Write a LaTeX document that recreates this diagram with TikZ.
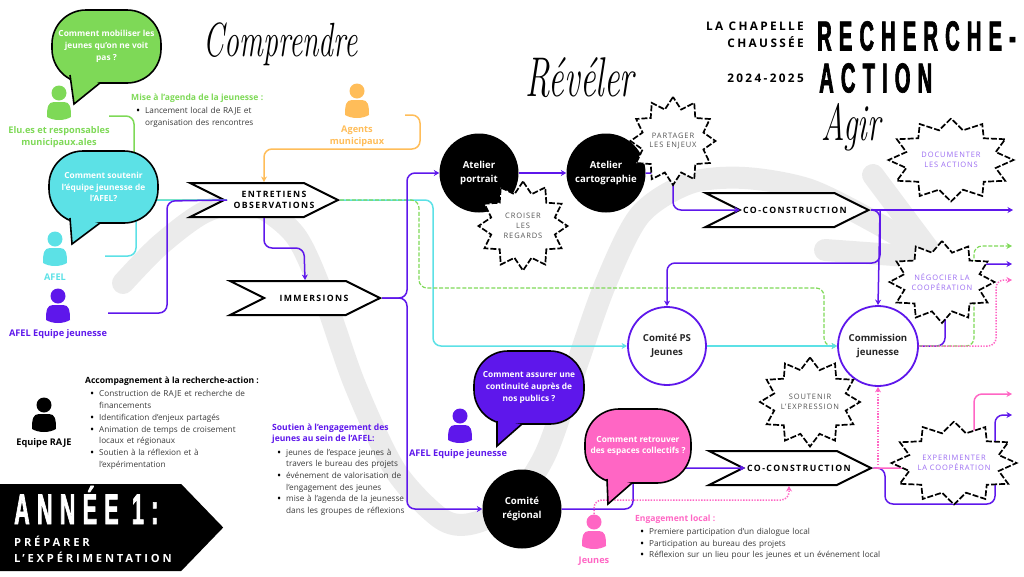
\documentclass[tikz,border=0pt]{standalone}
\usepackage{fontspec}
\usepackage{xcolor}
\usepackage{tikz}
\usetikzlibrary{arrows.meta,positioning,shapes.geometric,shapes.symbols}
\setmainfont{Open Sans}
\newfontfamily\condface[FakeStretch=0.48,LetterSpace=17,BoldFeatures={FakeBold=1.5}]{Liberation Sans}
\newfontfamily\bigface[FakeStretch=0.5,LetterSpace=17,BoldFeatures={FakeBold=1.5}]{Liberation Sans}
\newfontfamily\spacedface[LetterSpace=20]{Open Sans}
\newfontfamily\banface[LetterSpace=25]{Open Sans}
\newfontfamily\tagface[LetterSpace=12]{Open Sans}
\newfontfamily\chevface[LetterSpace=16]{Open Sans}
\newfontfamily\scriptface[FakeStretch=0.62]{Latin Modern Roman}
\definecolor{cgreen}{HTML}{7ED957}
\definecolor{ccyan}{HTML}{5CE1E6}
\definecolor{cviolet}{HTML}{5E17EB}
\definecolor{cpink}{HTML}{FF66C4}
\definecolor{corange}{HTML}{FFBD59}
\definecolor{cswoosh}{HTML}{EBEBEB}
\definecolor{ctag}{HTML}{555555}
\definecolor{cltag}{HTML}{9B6CF2}
\definecolor{cbody}{HTML}{3A3A3A}
\tikzset{
  farr/.style={-{Stealth[length=5.5pt,width=6pt]}, line width=1.5pt, rounded corners=8pt, #1},
  fdash/.style={farr=#1, dash pattern=on 4pt off 1.8pt, line width=1.2pt},
  fdot/.style={farr=#1, dash pattern=on 1.4pt off 1.4pt, line width=1.5pt},
  fplain/.style={line width=1.5pt, rounded corners=8pt, #1},
  chev/.style={signal, signal from=west, signal to=east, signal pointer angle=53, draw=black, line width=2pt, fill=white, inner sep=0pt, minimum height=34pt},
  chevlab/.style={inner sep=0pt, align=center, font=\chevface\bfseries\fontsize{8.7}{11.6}\selectfont},
  rond/.style={circle, draw=#1, line width=1.8pt, fill=white, minimum size=78pt, inner sep=0pt, align=center, font=\bfseries\fontsize{9.6}{13.4}\selectfont, text=black!85},
  rondnoir/.style={circle, fill=black, minimum size=79pt, inner sep=0pt, align=center, font=\bfseries\fontsize{9.6}{13.4}\selectfont, text=white},
  bulle/.style={rounded corners=34pt, draw=black, line width=1.6pt, fill=#1, text=white, inner sep=0pt, align=center, font=\bfseries\fontsize{8.35}{11.7}\selectfont},
  burst/.style={star, star points=12, star point ratio=1.35, draw=black, line width=1.7pt, dash pattern=on 6pt off 2pt, fill=white, minimum size=100pt, inner sep=0pt, transform shape},
  burstlab/.style={align=center, text=#1, font=\tagface\fontsize{7.5}{9.7}\selectfont},
  qui/.style={align=center, text=#1, inner sep=0pt, font=\bfseries\fontsize{9.2}{12}\selectfont},
  liste/.style={anchor=north west, inner sep=0pt, text=cbody, font=\fontsize{8.2}{11.7}\selectfont},
  sousT/.style={anchor=north west, inner sep=0pt, align=left, text=#1, font=\bfseries\fontsize{8.55}{11.7}\selectfont},
  manuscrit/.style={inner sep=0pt, font=\scriptface\itshape\fontsize{#1}{#1}\selectfont}
}
\newenvironment{puces}{\begin{list}{\raisebox{-1pt}{\fontsize{11}{11}\selectfont\color{black}\textbullet}}{\setlength\leftmargin{14pt}\setlength\labelsep{5pt}\setlength\labelwidth{8pt}\setlength\itemsep{0pt}\setlength\parsep{0pt}\setlength\topsep{0pt}\setlength\partopsep{0pt}}}{\end{list}}
\newcommand{\person}[4]{
  \node[circle, fill=#4, minimum size=15pt, inner sep=0pt] (#1) at (#2,#3) {};
  \begin{scope}[shift={(#2,#3)}]
    \fill[#4] (-12,24) .. controls (-12,14) and (-11,9) .. (-5,9) -- (5,9) .. controls (11,9) and (12,14) .. (12,24) .. controls (5,28) and (-5,28) .. cycle;
  \end{scope}
}
\newcommand{\burstat}[7]{
  \pgfmathsetmacro{\bx}{#4/100}\pgfmathsetmacro{\by}{#5/100}
  \begin{scope}[shift={(#2,#3)},xscale=\bx,yscale=\by]
    \node[burst] (#1) at (0,0) {};
  \end{scope}
  \node[burstlab=#6] (#1t) at (#2,#3) {#7};
}
\newcommand{\queue}[4]{
  \fill[#1] #2 -- #3 -- #4 -- cycle;
  \draw[black, line width=1.6pt] #2 -- #3 -- #4;
}

\begin{document}
\begin{tikzpicture}[x=1pt,y=-1pt]
\useasboundingbox (0,0) rectangle (1024,576);
% fond
\draw[cswoosh, line width=22pt, line cap=round, line join=round] plot[smooth] coordinates {(123,283) (160,245) (205,212) (250,203) (295,235) (325,300) (355,385) (395,470) (440,518) (470,524) (510,505) (545,455) (575,370) (605,285) (640,215) (690,183) (745,178) (810,190) (880,225) (935,258)};
\draw[cswoosh, line width=22pt, line cap=round, line join=round] (873,175) -- (935,258) -- (825,250);

% titres
\node[manuscrit=48] (tComp) at (281,44) {Comprendre};
\node[manuscrit=56] (tRev) at (580,78) {Révéler};
\node[manuscrit=52] (tAgir) at (851,127) {Agir};
\node[anchor=east, inner sep=0pt, align=right, font=\spacedface\bfseries\fontsize{11.8}{17}\selectfont] (tLieu) at (804,35) {LA CHAPELLE\\CHAUSSÉE};
\node[anchor=east, inner sep=0pt, font=\spacedface\bfseries\fontsize{11.8}{17}\selectfont] (tAn) at (804,78) {2024-2025};
\node[anchor=west, inner sep=0pt, font=\condface\bfseries\fontsize{42}{42}\selectfont] (tRech) at (817,36) {RECHERCHE-};
\node[anchor=west, inner sep=0pt, font=\condface\bfseries\fontsize{42}{42}\selectfont] (tAct) at (819,78) {ACTION};

% personnes
\person{pElu}{59}{93}{cgreen}
\node[qui=cgreen, below=26pt of pElu] (lElu) {Elu.es et responsables\\municipaux.ales};
\person{pAgent}{357}{91}{corange}
\node[qui=corange, below=27pt of pAgent] (lAgent) {Agents\\municipaux};
\person{pAfel}{55}{239}{ccyan}
\node[qui=ccyan, below=27pt of pAfel] (lAfel) {AFEL};
\person{pEq}{58}{296}{cviolet}
\node[qui=cviolet, below=26pt of pEq] (lEq) {AFEL Equipe jeunesse};
\person{pRaje}{44}{405}{black}
\node[qui=black, below=26pt of pRaje] (lRaje) {Equipe RAJE};
\person{pEq2}{460}{416}{cviolet}
\node[qui=cviolet, below=26pt of pEq2, xshift=-2pt] (lEq2) {AFEL Equipe jeunesse};
\person{pJeu}{594}{522}{cpink}
\node[qui=cpink, below=27pt of pJeu] (lJeu) {Jeunes};

% textes
\node[sousT=cgreen] (tMise) at (131,93.5) {Mise à l’agenda de la jeunesse :};
\node[liste, text width=135pt, below=-1pt of tMise.south west, anchor=north west] (lMise) {\begin{puces}\item Lancement local de RAJE et\\organisation des rencontres\end{puces}};
\node[sousT=black] (tAcc) at (85,377) {Accompagnement à la recherche-action :};
\node[liste, text width=190pt, below=-1pt of tAcc.south west, anchor=north west] (lAcc) {\begin{puces}\item Construction de RAJE et recherche de\\financements\item Identification d’enjeux partagés\item Animation de temps de croisement\\locaux et régionaux\item Soutien à la réflexion et à\\l’expérimentation\end{puces}};
\node[sousT=cviolet] (tSout) at (272,423.5) {Soutien à l’engagement des\\jeunes au sein de l’AFEL:};
\node[liste, text width=150pt, below=-1pt of tSout.south west, anchor=north west] (lSout) {\begin{puces}\item jeunes de l’espace jeunes à\\travers le bureau des projets\item événement de valorisation de\\l’engagement des jeunes\item mise à l’agenda de la jeunesse\\dans les groupes de réflexions\end{puces}};
\node[sousT=cpink] (tEng) at (635,514.5) {Engagement local :};
\node[liste, text width=300pt, below=-1pt of tEng.south west, anchor=north west] (lEng) {\begin{puces}\item Premiere participation d’un dialogue local\item Participation au bureau des projets\item Réflexion sur un lieu pour les jeunes et un événement local\end{puces}};

% bandeau
\node[signal, signal to=east, signal pointer angle=92, fill=black, minimum width=223pt, minimum height=87pt, inner sep=0pt, anchor=west] (ban) at (0,527.5) {};
\node[anchor=west, inner sep=0pt, text=white, font=\bigface\bfseries\fontsize{43}{43}\selectfont] (ban1) at (14,505) {ANNÉE 1:};
\node[anchor=west, inner sep=0pt, text=white, align=left, font=\banface\bfseries\fontsize{11.2}{16}\selectfont] (ban2) at (14,549) {PRÉPARER\\L’EXPÉRIMENTATION};

% noeuds
\node[chev, minimum width=148pt] (ent) at (264,200) {};
\node[chev, minimum width=150pt] (imm) at (305,298) {};
\node[chev, minimum width=163pt] (co1) at (787,210) {};
\node[chev, minimum width=162pt] (co2) at (790,468) {};
\node[rondnoir] (atP) at (479,173) {Atelier\\portrait};
\node[rondnoir] (atC) at (606,173) {Atelier\\cartographie};
\node[rond=cviolet] (cPS) at (667,346) {Comité PS\\Jeunes};
\node[rond=cviolet, minimum size=80pt] (cJ) at (878,346) {Commission\\jeunesse};
\node[rondnoir] (cR) at (522,509) {Comité\\régional};

% points libres
\coordinate (oElu) at (109,116);
\coordinate (oAfel) at (105,256);
\coordinate (oEq) at (108,313);
\coordinate (oAgent) at (405,115);
\coordinate (nEnt) at (227,200);
\coordinate (nCo1) at (740,210);
\coordinate (nCo2) at (745,468);
\coordinate (e1) at (1013,210);
\coordinate (e2) at (1012,246);
\coordinate (e3) at (1012,264);
\coordinate (e4) at (1012,280);
\coordinate (e5) at (1012,394);
\coordinate (e6) at (1012,415);
\coordinate (dJeu) at (789,486);
\coordinate (oJeu) at (594,514);

% liens
\draw[fplain=cgreen] (oElu) -- (134,116) -- (134,200) -- (nEnt);
\draw[fplain=ccyan] (oAfel) -- (136,256) -- (136,200) -- (nEnt);
\draw[fplain=cviolet] (oEq) -- (167,313) -- (167,201) -- (nEnt);
\draw[farr=corange] (oAgent) -- (420,115) -- (420,149) -- (264,149) -- (ent.north);
\draw[farr=cviolet] (ent.south) -- (264,248) -- (304,248) -- (imm.north);
\draw[farr=ccyan] (ent.east) -- (433,200) -- (433,346) -- (cPS.west);
\draw[fdash=cgreen] (ent.east) -- (419,200) -- (419,288) -- (824,288) -- (824,346) -- (cJ.west);
\draw[farr=cviolet] (imm.east) -- (407,298) -- (407,173) -- (atP.west);
\draw[farr=cviolet] (imm.east) -- (407,298) -- (407,509) -- (cR.west);
\draw[farr=cviolet] (atP) -- (atC);
\draw[farr=cviolet] (atC.east) -- (673,173) -- (673,210) -- (nCo1);
\draw[farr=cviolet] (co1.east) -- (e1);
\draw[farr=cviolet] (co1.east) -- (880,210) -- (cJ.north);
\draw[farr=cviolet] (880,210) -- (880,263) -- (667,263) -- (cPS.north);
\draw[farr=ccyan] (cPS) -- (cJ);
\draw[farr=cviolet] (cJ.east) -- (945,346) -- (945,264) -- (e3);
\draw[fdash=cgreen] (cJ.east) -- (974,346) -- (974,246) -- (e2);
\draw[fdot=cpink] (cJ.east) -- (996,346) -- (996,280) -- (e4);
\draw[farr=cviolet] (cR.east) -- (633,509) -- (633,468) -- (nCo2);
\draw[farr=cviolet] (co2.east) -- (885,468) -- (885,504) -- (995,504) -- (995,415) -- (e6);
\draw[farr=cpink] (co2.east) -- (974,468) -- (974,394) -- (e5);
\draw[fdot=cpink] (878,468) -- (cJ.south);
\draw[fdot=cpink] (oJeu) -- (594,500) -- (789,500) -- (dJeu);

% textes des fleches
\node[chevlab] (entT) at (274,200) {ENTRETIENS\\OBSERVATIONS};
\node[chevlab] (immT) at (314,298) {IMMERSIONS};
\node[chevlab] (co1T) at (795,210) {CO-CONSTRUCTION};
\node[chevlab] (co2T) at (799,468) {CO-CONSTRUCTION};

% etoiles
\burstat{sPart}{673}{141}{85}{88}{ctag}{PARTAGER\\LES ENJEUX}
\burstat{sCrois}{523}{226}{89}{89}{ctag}{CROISER\\LES\\REGARDS}
\burstat{sDoc}{951}{160}{125}{83}{cltag}{DOCUMENTER\\LES ACTIONS}
\burstat{sNeg}{942}{282}{105}{82}{cltag}{NÉGOCIER LA\\COOPÉRATION}
\burstat{sSout}{810}{402}{100}{89}{ctag}{SOUTENIR\\L’EXPRESSION}
\burstat{sExp}{954}{463}{125}{83}{cltag}{EXPERIMENTER\\LA COOPÉRATION}

% bulles
\node[bulle=cgreen, minimum width=109pt, minimum height=73pt] (b1) at (106.5,46.5) {Comment mobiliser les\\jeunes qu’on ne voit\\pas ?};
\queue{cgreen}{(70,75)}{(74,104)}{(100,83)}
\node[bulle=ccyan, minimum width=109pt, minimum height=72pt] (b2) at (103.5,187) {Comment soutenir\\l’équipe jeunesse de\\l’AFEL?};
\queue{ccyan}{(70,218)}{(72,244)}{(100,223)}
\node[bulle=cviolet, minimum width=110pt, minimum height=73pt] (b3) at (529,387.5) {Comment assurer une\\continuité auprès de\\nos publics ?};
\queue{cviolet}{(497,421)}{(497,446)}{(522,424)}
\node[bulle=cpink, minimum width=106pt, minimum height=74pt] (b4) at (638,446) {Comment retrouver\\des espaces collectifs ?};
\queue{cpink}{(607,479)}{(608,504)}{(632,483)}
\end{tikzpicture}
\end{document}
